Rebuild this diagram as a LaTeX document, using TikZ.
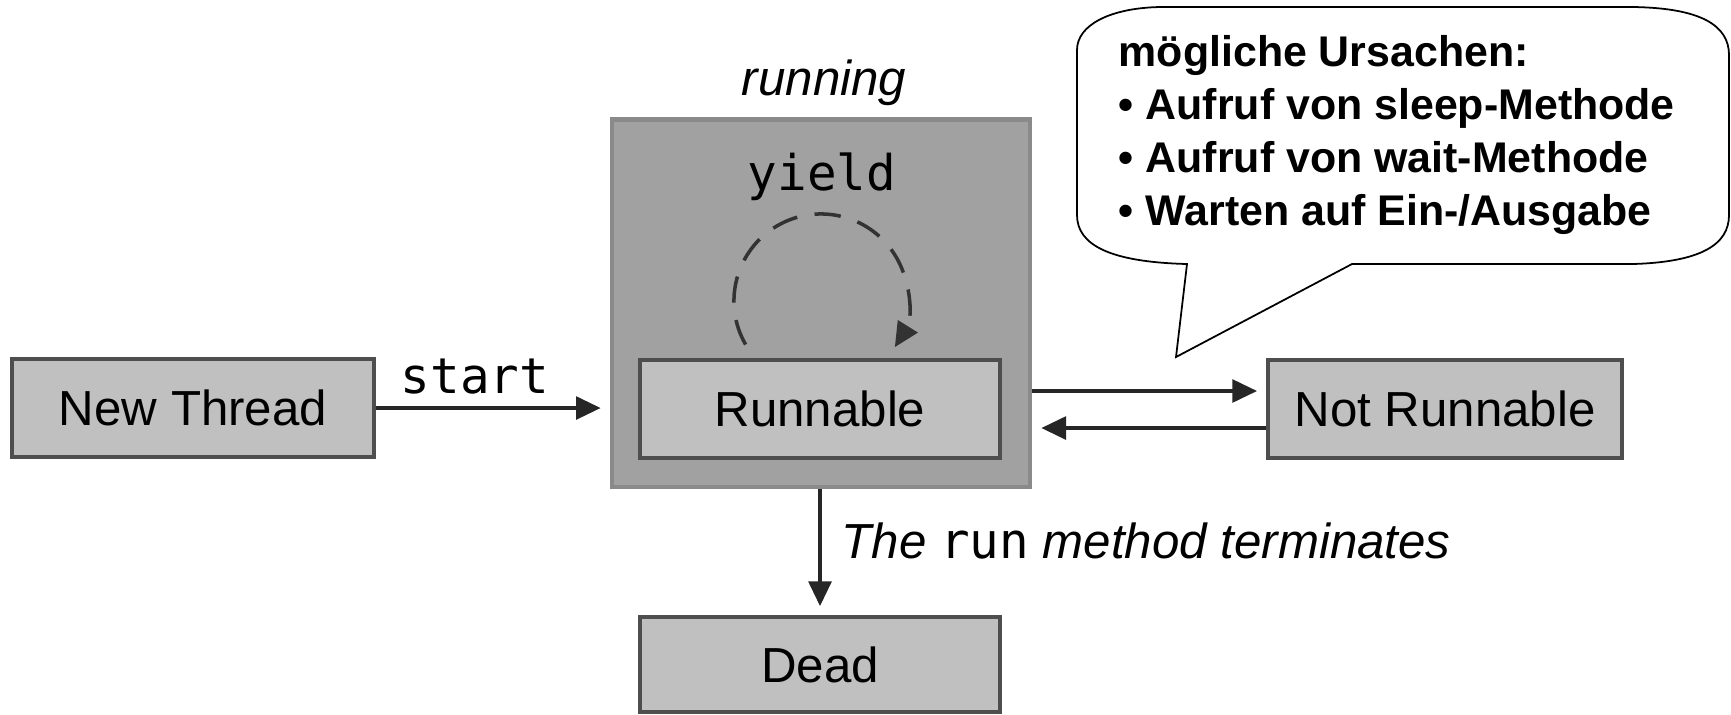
\documentclass[tikz,border=0pt]{standalone}
\usepackage{fontspec}
\setmainfont{Liberation Sans}
\setmonofont{DejaVu Sans Mono}
\usepackage{tikz}
\usetikzlibrary{arrows.meta, calc}
\definecolor{boxgray}{RGB}{192,192,192}
\definecolor{boxline}{RGB}{78,78,78}
\definecolor{rungray}{RGB}{161,161,161}
\definecolor{runline}{RGB}{138,138,138}
\tikzset{%
  statebox/.style={draw=boxline, fill=boxgray, line width=1pt, minimum width=3.6cm,
                   minimum height=0.98cm, inner sep=0pt, font=\fontsize{14pt}{17pt}\selectfont},
  trans/.style={-{Triangle[length=7pt, width=6.5pt]}, line width=0.9pt, draw=black!85,
                shorten >=2.6pt},
  lbl/.style={font=\fontsize{14pt}{17pt}\selectfont, inner sep=0pt},
}

\begin{document}
\begin{tikzpicture}[x=0.01cm, y=-0.01cm]
    \useasboundingbox (0,0) rectangle (1731,714);

    %running area with the inner state
    \node[draw=runline, fill=rungray, line width=1.2pt, minimum width=4.18cm,
          minimum height=3.67cm] (runbox) at (821,303) {};
    \node[lbl, anchor=base] (runlbl) at (824,95) {\itshape running};
    \node[statebox] (runnable) at (820,409) {Runnable};

    %other states
    \node[statebox, minimum width=3.62cm] (newthread) at (193,408) {New Thread};
    \node[statebox, minimum width=3.54cm] (notrunnable) at (1445,409) {Not Runnable};
    \node[statebox, minimum height=0.95cm] (dead) at (820,664.5) {Dead};

    %yield loop
    \coordinate (yc) at (821,301);
    \node[lbl, anchor=base] (yield) at (822,190) {\ttfamily yield};
    \draw[trans, dash pattern=on 7.5pt off 5pt, line width=1pt, draw=black!80, shorten >=0pt]
        ([shift={(210:0.87cm)}]yc) arc[start angle=210, end angle=-32, radius=0.87cm];

    %transitions
    \draw[trans] (newthread.east) -- (newthread.east -| runbox.west);
    \node[lbl, anchor=base] (start) at (475,393) {\ttfamily start};

    \coordinate (up) at ([yshift=0.18cm]notrunnable.west);
    \coordinate (lo) at ([yshift=-0.19cm]notrunnable.west);
    \draw[trans] (up -| runbox.east) -- (up);
    \draw[trans] (lo) -- (lo -| runbox.east);

    \draw[trans] (runbox.south -| dead.north) -- (dead.north);
    \node[lbl, anchor=west] (term) at (841,541)
        {\itshape The {\upshape\ttfamily run} method terminates};

    %callout
    \draw[line width=0.5pt, fill=white] (1187,264) -- (1176,357) -- (1352,264) -- (1633,264)
        .. controls (1700,262) and (1729,245) .. (1729,215) -- (1729,55)
        .. controls (1729,25) and (1700,8) .. (1633,7) -- (1160,7)
        .. controls (1110,8) and (1077,25) .. (1077,50) -- (1077,215)
        .. controls (1077,245) and (1110,262) .. (1187,264) -- cycle;
    \node[anchor=north west, inner sep=0pt, align=left,
          font=\fontsize{12.2pt}{15pt}\selectfont\bfseries] (ursachen) at (1118,35)
        {mögliche Ursachen:\\
         • Aufruf von sleep-Methode\\
         • Aufruf von wait-Methode\\
         • Warten auf Ein-/Ausgabe};
\end{tikzpicture}
\end{document}
